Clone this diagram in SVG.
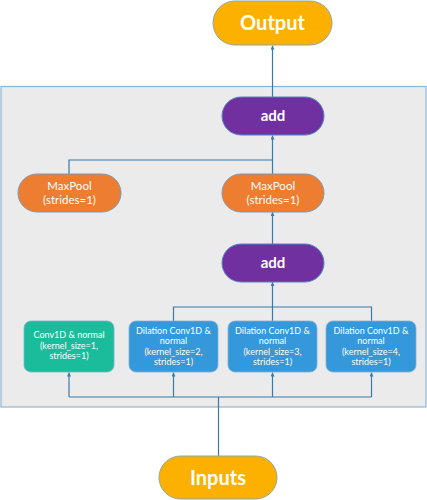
<svg xmlns="http://www.w3.org/2000/svg" width="427" height="500" viewBox="0 0 427 500">
<style>
text{font-family:Lato,"Open Sans","Liberation Sans",sans-serif;fill:#fff;text-anchor:middle}
.big{font-size:20px;font-weight:bold}
.add{font-size:15px;font-weight:bold}
.mp{font-size:11.5px}
.cv{font-size:9px}
.term{fill:#fcb000;stroke:#8fa5a8;stroke-width:1}
.purple{fill:#7030a0;stroke:#4f86c6;stroke-width:1}
.orange{fill:#ed7d31;stroke:#7f98b0;stroke-width:1}
.green{fill:#1abc9c;stroke:#7fb0c8;stroke-width:0.8}
.blue{fill:#3498db;stroke:#7fb0d8;stroke-width:0.8}
.ln{fill:none;stroke:#3b7ba8;stroke-width:1.2}
</style>
<defs>
<marker id="ah" viewBox="0 0 6 6" refX="6" refY="3" markerWidth="4" markerHeight="4" orient="auto" markerUnits="userSpaceOnUse">
<path d="M0,0 L6,3 L0,6 z" fill="#3b7ba8"/>
</marker>
</defs>
<rect id="container" x="1" y="86.5" width="425" height="320.5" fill="#ebebeb" stroke="#8cb4d2" stroke-width="1.2"/>
<g id="connectors">
<path class="ln" d="M272.5,97 V45.5" marker-end="url(#ah)"/>
<path class="ln" d="M272.5,174 V135.5" marker-end="url(#ah)"/>
<path class="ln" d="M69,174 V160 H272.5"/>
<path class="ln" d="M272.5,244 V212" marker-end="url(#ah)"/>
<path class="ln" d="M272.5,321 V282" marker-end="url(#ah)"/>
<path class="ln" d="M173.5,321 V307 H371.5 V321"/>
<path class="ln" d="M218.5,456 V397"/>
<path class="ln" d="M69,397 H371.5"/>
<path class="ln" d="M69,397 V372.5" marker-end="url(#ah)"/>
<path class="ln" d="M173.5,397 V372.5" marker-end="url(#ah)"/>
<path class="ln" d="M272.5,397 V372.5" marker-end="url(#ah)"/>
<path class="ln" d="M371.5,397 V372.5" marker-end="url(#ah)"/>
</g>
<g id="output"><rect class="term" x="213" y="1" width="119" height="44" rx="22"/><text class="big" x="272.5" y="30">Output</text></g>
<g id="add1"><rect class="purple" x="222" y="97" width="102" height="38" rx="19"/><text class="add" x="273" y="121">add</text></g>
<g id="maxpool1"><rect class="orange" x="18" y="174" width="103" height="38" rx="19"/><text class="mp" x="69.5" y="190">MaxPool</text><text class="mp" x="69.5" y="204">(strides=1)</text></g>
<g id="maxpool2"><rect class="orange" x="222" y="174" width="102" height="38" rx="19"/><text class="mp" x="273" y="190">MaxPool</text><text class="mp" x="273" y="204">(strides=1)</text></g>
<g id="add2"><rect class="purple" x="222" y="244" width="102" height="38" rx="19"/><text class="add" x="273" y="268">add</text></g>
<g id="conv1"><rect class="green" x="24" y="321" width="90" height="51" rx="7"/><text class="cv" x="69" y="338">Conv1D &amp; normal</text><text class="cv" x="69" y="348.5">(kernel_size=1,</text><text class="cv" x="69" y="359">strides=1)</text></g>
<g id="dconv2"><rect class="blue" x="129" y="321" width="89" height="51" rx="7"/><text class="cv" x="173.5" y="333.5">Dilation Conv1D &amp;</text><text class="cv" x="173.5" y="344">normal</text><text class="cv" x="173.5" y="354.5">(kernel_size=2,</text><text class="cv" x="173.5" y="365">strides=1)</text></g>
<g id="dconv3"><rect class="blue" x="228" y="321" width="89" height="51" rx="7"/><text class="cv" x="272.5" y="333.5">Dilation Conv1D &amp;</text><text class="cv" x="272.5" y="344">normal</text><text class="cv" x="272.5" y="354.5">(kernel_size=3,</text><text class="cv" x="272.5" y="365">strides=1)</text></g>
<g id="dconv4"><rect class="blue" x="326" y="321" width="90" height="51" rx="7"/><text class="cv" x="371" y="333.5">Dilation Conv1D &amp;</text><text class="cv" x="371" y="344">normal</text><text class="cv" x="371" y="354.5">(kernel_size=4,</text><text class="cv" x="371" y="365">strides=1)</text></g>
<g id="inputs"><rect class="term" x="159" y="456" width="118" height="43" rx="21.5"/><text class="big" x="218" y="484.5">Inputs</text></g>
</svg>
